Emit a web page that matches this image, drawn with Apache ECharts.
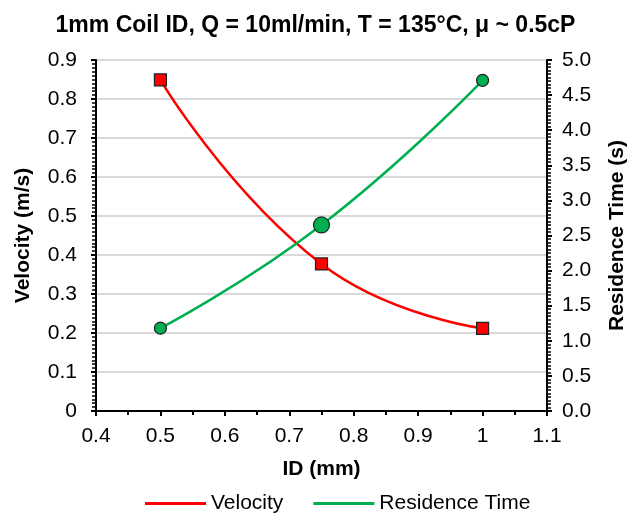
<!DOCTYPE html>
<html><head><meta charset="utf-8">
<script src="https://cdn.jsdelivr.net/npm/echarts@6/dist/echarts.min.js"></script>
<style>html,body{margin:0;padding:0;background:#fff}#c{width:631px;height:514px}</style>
</head><body><div id="c"></div>
<script>
var idValues = [0.5, 0.75, 1.0];
var velocity = [0.849, 0.377, 0.212];
var residence = [1.18, 2.65, 4.71];
var titleText = '1mm Coil ID, Q = 10ml/min, T = 135\u00B0C, \u03BC ~ 0.5cP';

function pairs(xs, ys){ return xs.map(function(x,i){return [x, ys[i]];}); }
var font = 'Liberation Sans, Arial, sans-serif';
var chart = echarts.init(document.getElementById('c'));
chart.setOption({
  animation: false,
  title: {text: titleText, left: 'center', top: 9,
    textStyle: {fontFamily: font, fontSize: 23, fontWeight: 'bold', color: '#000'}},
  grid: {left: 96, right: 84, top: 60, bottom: 103, containLabel: false, outerBoundsMode: 'none',
    show: true, borderColor: '#000', borderWidth: 2, backgroundColor: 'transparent'},
  legend: {bottom: 0, left: 145, padding: 0, itemGap: 30, itemWidth: 61, itemHeight: 3,
    icon: 'rect',
    data: [{name: 'Velocity', itemStyle: {color: '#ff0000', borderWidth: 0}}, {name: 'Residence Time', itemStyle: {color: '#00b050', borderWidth: 0}}],
    textStyle: {fontFamily: font, fontSize: 21, color: '#000'}},
  xAxis: {type: 'value', min: 0.4, max: 1.1, interval: 0.1,
    name: 'ID (mm)', nameLocation: 'middle', nameGap: 48,
    nameTextStyle: {fontFamily: font, fontSize: 21, fontWeight: 'bold', color: '#000'},
    axisLine: {show: true, lineStyle: {color: '#000', width: 2}},
    axisTick: {show: true, length: 5, lineStyle: {color: '#000', width: 2}},
    minorTick: {show: true, splitNumber: 2, length: 4, lineStyle: {color: '#000', width: 2}},
    splitLine: {show: false},
    axisLabel: {fontFamily: font, fontSize: 21, color: '#000', margin: 15}},
  yAxis: [{type: 'value', min: 0, max: 0.9, interval: 0.1, position: 'left',
    name: 'Velocity (m/s)', nameLocation: 'middle', nameGap: 62, nameRotate: 90,
    nameTextStyle: {fontFamily: font, fontSize: 21, fontWeight: 'bold', color: '#000'},
    axisLine: {show: true, lineStyle: {color: '#000', width: 2}},
    axisTick: {show: true, length: 5, lineStyle: {color: '#000', width: 2}},
    minorTick: {show: true, splitNumber: 10, length: 4, lineStyle: {color: '#000', width: 1.5}},
    splitLine: {show: true, lineStyle: {color: '#d9d9d9', width: 2}},
    axisLabel: {fontFamily: font, fontSize: 21, color: '#000', margin: 19,
      formatter: function(v){ return v === 0 ? '0' : v.toFixed(1); }}},
   {type: 'value', min: 0, max: 5, interval: 0.5, position: 'right',
    name: 'Residence Time (s)', nameLocation: 'middle', nameGap: 60, nameRotate: 90,
    nameTextStyle: {fontFamily: font, fontSize: 21, fontWeight: 'bold', color: '#000'},
    axisLine: {show: true, lineStyle: {color: '#000', width: 2}},
    axisTick: {show: true, length: 5, lineStyle: {color: '#000', width: 2}},
    minorTick: {show: true, splitNumber: 10, length: 4, lineStyle: {color: '#000', width: 1.5}},
    splitLine: {show: false},
    axisLabel: {fontFamily: font, fontSize: 21, color: '#000', margin: 15,
      formatter: function(v){ return v.toFixed(1); }}}],
  series: [
    {name: 'Velocity', type: 'line', yAxisIndex: 0, data: pairs(idValues, velocity), smooth: 0.5,
     symbol: 'rect', symbolSize: 12, showAllSymbol: true,
     lineStyle: {color: '#ff0000', width: 2.5},
     itemStyle: {color: '#ff0000', borderColor: '#222', borderWidth: 1.2}, z: 3},
    {name: 'Residence Time', type: 'line', yAxisIndex: 1, data: pairs(idValues, residence), smooth: 0.5,
     symbol: 'circle', symbolSize: function(v, p){ return p.dataIndex === 1 ? 16 : 12; }, showAllSymbol: true,
     lineStyle: {color: '#00b050', width: 2.5},
     itemStyle: {color: '#00b050', borderColor: '#222', borderWidth: 1.2}, z: 4}
  ]
});
</script></body></html>
